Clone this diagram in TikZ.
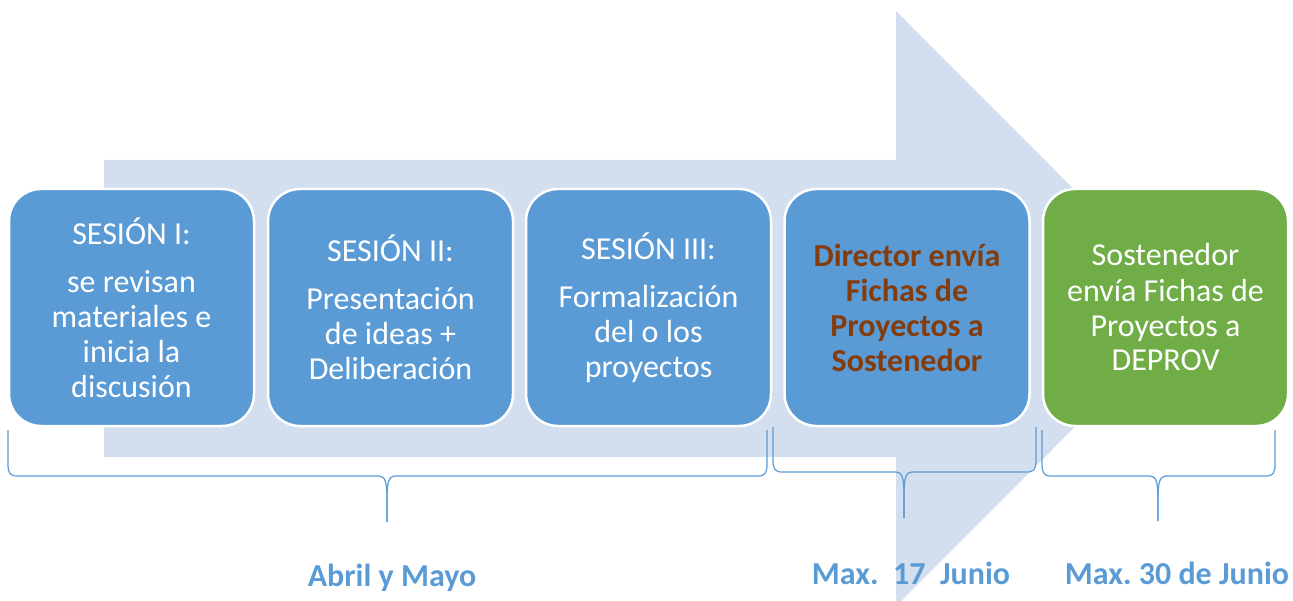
\documentclass[tikz,border=0pt]{standalone}
\usepackage{fontspec}
\setmainfont{Carlito}
\frenchspacing
\definecolor{arrowbg}{RGB}{211,222,239}
\definecolor{boxblue}{RGB}{91,155,213}
\definecolor{boxgreen}{RGB}{112,173,71}
\definecolor{brown}{RGB}{132,60,12}
\newcommand{\mybrace}[6]{%
  \draw[bracestyle] (#1,#4) -- (#1,#5-12) .. controls (#1,#5-3) and (#1+2,#5) .. (#1+9,#5)
    -- (#3-8,#5) .. controls (#3-2,#5) and (#3,#5+6) .. (#3,#5+22) -- (#3,#6);
  \draw[bracestyle] (#3,#6) -- (#3,#5+22) .. controls (#3,#5+6) and (#3+2,#5) .. (#3+8,#5)
    -- (#2-9,#5) .. controls (#2-2,#5) and (#2,#5-3) .. (#2,#5-12) -- (#2,#4);
}
\begin{document}
\begin{tikzpicture}[x=1pt,y=-1pt,
  stepbox/.style={draw=white, line width=2.5pt, rounded corners=32pt, fill=boxblue,
    minimum width=245pt, minimum height=237pt, align=center,
    inner sep=0pt, text=white, font=\fontsize{32}{35}\selectfont},
  datelabel/.style={text=boxblue, font=\fontsize{32}{36}\selectfont\bfseries, inner sep=0pt},
  bracestyle/.style={draw=boxblue, line width=1.2pt}]
\useasboundingbox (0,0) rectangle (1293,601);
\begin{scope}
\clip (0,0) rectangle (1293,601);
\fill[arrowbg] (104,160) -- (896,160) -- (896,11) -- (1193,308.5) -- (896,606) -- (896,457) -- (104,457) -- cycle;
\end{scope}
\node[stepbox] (b1) at (131.5,307.5) {SESIÓN I:\\[13pt] se revisan\\ materiales e\\ inicia la\\ discusión};
\node[stepbox] (b2) at (390.5,307.5) {SESIÓN II:\\[13pt] Presentación\\ de ideas +\\ Deliberación};
\node[stepbox] (b3) at (648.5,307.5) {SESIÓN III:\\[13pt] Formalización\\ del o los\\ proyectos};
\node[stepbox, text=brown, font=\fontsize{32}{35}\selectfont\bfseries] (b4) at (907,307.5) {Director envía\\ Fichas de\\ Proyectos a\\ Sostenedor};
\node[stepbox, fill=boxgreen] (b5) at (1165.5,307.5) {Sostenedor\\ envía Fichas de\\ Proyectos a\\ DEPROV};
\mybrace{8}{767}{387}{430}{476}{522}
\mybrace{773}{1036}{904}{427}{472}{518}
\mybrace{1042}{1275}{1158}{430}{476}{521}
\node[datelabel] (l1) at (392,578) {Abril y Mayo};
\node[datelabel] (l2) at (911,573) {Max.\ \ 17\ \ Junio};
\node[datelabel] (l3) at (1177,573) {Max. 30 de Junio};
\end{tikzpicture}
\end{document}
